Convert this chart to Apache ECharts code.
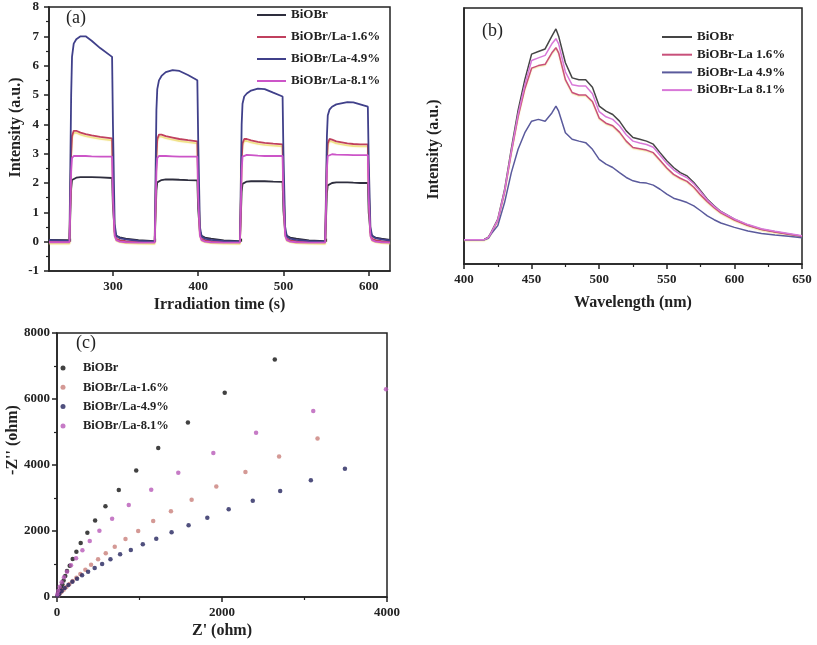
<!DOCTYPE html>
<html><head><meta charset="utf-8">
<script src="https://cdn.jsdelivr.net/npm/echarts@6/dist/echarts.min.js"></script>
<style>html,body{margin:0;padding:0;background:#fff}#c{width:817px;height:645px}</style>
</head><body><div id="c"></div>
<script>
// ---------- Panel (a): photocurrent ----------
const timeA = [225,
249,251,252,254,257,262,268,275,285,299,300,302,304,308,315,330,
349,351,352,354,357,362,370,378,388,399,400,402,404,408,415,430,
449,451,452,454,457,462,470,478,488,499,500,502,504,508,515,530,
549,551,552,554,557,562,575,582,590,599,600,602,604,608,615,625];
const aBiOBr = [0.06,
0.05,1.8,2.1,2.15,2.18,2.2,2.2,2.2,2.19,2.17,1.2,0.35,0.2,0.15,0.1,0.05,
0.02,1.75,2.02,2.07,2.1,2.12,2.12,2.11,2.1,2.09,1.1,0.35,0.2,0.14,0.1,0.04,
0.02,1.7,1.97,2.02,2.05,2.06,2.06,2.06,2.05,2.04,1.05,0.33,0.2,0.14,0.1,0.04,
0.02,1.65,1.92,1.97,2.0,2.02,2.02,2.01,2.0,2.0,1.0,0.33,0.2,0.14,0.1,0.06];
const aLa16 = [0.0,
0.0,3.0,3.6,3.78,3.78,3.72,3.67,3.62,3.57,3.52,2.0,0.3,0.1,0.05,0.02,0.0,
-0.01,2.9,3.5,3.65,3.65,3.6,3.55,3.5,3.46,3.42,2.0,0.3,0.1,0.05,0.02,0.0,
-0.01,2.8,3.35,3.5,3.5,3.45,3.4,3.37,3.34,3.32,1.9,0.3,0.1,0.05,0.02,0.0,
-0.01,2.8,3.35,3.5,3.48,3.42,3.35,3.33,3.32,3.32,1.9,0.3,0.1,0.05,0.02,0.0];
const aLa49 = [0.05,
0.03,5.0,6.3,6.75,6.9,7.0,7.0,6.85,6.6,6.3,4.0,0.6,0.2,0.12,0.08,0.03,
0.0,4.5,5.2,5.5,5.65,5.78,5.85,5.82,5.68,5.5,3.5,0.5,0.18,0.1,0.06,0.02,
0.0,4.0,4.7,4.95,5.05,5.15,5.22,5.2,5.08,4.95,3.0,0.5,0.18,0.1,0.06,0.02,
0.0,3.6,4.3,4.5,4.6,4.68,4.76,4.75,4.68,4.6,2.8,0.5,0.2,0.12,0.08,0.04];
const aLa81 = [-0.02,
-0.02,2.4,2.85,2.92,2.92,2.92,2.92,2.91,2.9,2.9,1.5,0.2,0.05,0.0,-0.02,-0.03,
-0.03,2.4,2.85,2.92,2.92,2.92,2.91,2.9,2.9,2.9,1.5,0.2,0.05,0.0,-0.02,-0.03,
-0.03,2.45,2.9,2.96,2.96,2.95,2.93,2.92,2.92,2.92,1.5,0.2,0.05,0.0,-0.02,-0.03,
-0.03,2.5,2.92,2.98,2.98,2.97,2.96,2.95,2.95,2.95,1.5,0.2,0.05,0.0,-0.02,-0.03];
const namesA = ['BiOBr','BiOBr/La-1.6%','BiOBr/La-4.9%','BiOBr/La-8.1%'];
const xTicksA = [300,400,500,600];
const xMinorA = [250,350,450,550];

// ---------- Panel (b): PL spectra ----------
const waveB = [400,410,415,418,420,425,430,435,440,445,450,455,460,465,468,470,475,480,485,490,495,500,505,510,515,520,525,530,535,540,545,550,555,560,565,570,575,580,585,590,600,610,620,630,640,650];
const bBiOBr = [9.5,9.5,9.6,10.5,12.3,17.5,29,45,60,72,82,83,84,89,91.8,89,78.6,72.7,72,72,69,61.7,59.7,58.4,55.8,52,49.4,48.7,48,46.8,43.5,40.3,37.7,35.7,34.4,31.8,28.6,25.3,22.7,20.5,17.5,15.2,13.6,12.6,11.7,10.8];
const bLa16 = [9.5,9.5,9.5,10.3,12,17,28,43.5,57.5,68.5,76.5,77.5,78,82.5,84.5,82.5,72,67,66,66,63.5,57,55,54,51.5,48,45.5,45,44.5,43.5,40.5,37.5,35,33.5,32.3,30,27,24.3,22,20,17.2,15,13.5,12.5,11.6,10.8];
const bLa49 = [9.5,9.5,9.5,10,11.7,15,24,35.7,44.8,51.3,55.8,56.5,55.8,59,61.7,59.7,51.3,48.7,48,47.4,44.8,40.9,39,37.7,35.7,33.8,32.5,31.8,31.6,30.8,29.2,27.3,25.7,24.9,24,22.7,20.8,18.8,17.3,16,14.3,12.9,11.9,11.3,10.8,10.3];
const bLa81 = [9.5,9.5,9.5,10.3,12.1,17.2,28.5,44,58.5,70,79.5,80.5,81.5,86,88,86,75,70,69.5,69.5,66.5,59.5,57.5,56.5,54,50.5,48,47.3,46.7,45.6,42.5,39.3,36.8,35,33.7,31.3,28.2,25,22.5,20.4,17.6,15.4,13.8,12.8,11.9,11];
const namesB = ['BiOBr','BiOBr-La 1.6%','BiOBr-La 4.9%','BiOBr-La 8.1%'];

// ---------- Panel (c): Nyquist ----------
const cBiOBrX = [2640,2033,1587,1227,960,749,587,462,368,287,235,190,154,121,100,80,65,50,32,20,8];
const cBiOBrY = [7200,6190,5290,4515,3830,3240,2750,2315,1950,1635,1375,1150,950,790,635,500,385,280,180,100,40];
const cLa16X = [3158,2692,2284,1931,1632,1381,1166,984,830,700,591,498,413,344,283,235,190,150,113,81,53,28,12];
const cLa16Y = [4800,4260,3790,3345,2950,2596,2300,2000,1757,1525,1323,1141,980,828,697,586,485,394,303,222,151,81,30];
const cLa49X = [3490,3077,2705,2373,2081,1822,1595,1389,1203,1040,895,765,648,547,457,377,304,243,186,138,93,57,28,8];
const cLa49Y = [3890,3535,3212,2920,2656,2404,2171,1960,1768,1596,1424,1293,1141,1000,879,768,657,556,465,364,273,182,101,40];
const cLa81X = [3988,3106,2413,1895,1470,1142,870,668,514,397,308,231,170,121,85,57,32,16,4];
const cLa81Y = [6292,5636,4979,4363,3767,3252,2788,2374,2010,1697,1414,1172,960,768,596,444,313,192,81];
const namesC = ['BiOBr','BiOBr/La-1.6%','BiOBr/La-4.9%','BiOBr/La-8.1%'];

// ---------- styling ----------
const serif = 'Liberation Serif';
const colA = ['#2e2e3e','#c0405e','#40408a','#cc55c8'];
const colB = ['#454545','#c8507a','#5a5a9c','#d878d8'];
const colC = ['#111111','#c9807a','#24245e','#b85ab8'];
const ink = '#222';
const plain = (v) => String(v);

function lab(extra) {
  return Object.assign({fontFamily: serif, fontWeight: 'bold', fontSize: 13, color: ink, margin: 9, formatter: plain}, extra);
}
function baseAxis(extra) {
  return Object.assign({
    type: 'value',
    axisLine: {show: true, onZero: false, lineStyle: {color: ink, width: 1.5}},
    axisTick: {show: true, inside: false, length: 5, lineStyle: {color: ink, width: 1.5}},
    minorTick: {show: false},
    splitLine: {show: false},
    axisLabel: lab({}),
    nameLocation: 'middle',
    nameTextStyle: {fontFamily: serif, fontWeight: 'bold', fontSize: 16, color: ink}
  }, extra);
}
const minor = {show: true, splitNumber: 2, length: 3, lineStyle: {color: ink, width: 1.2}};

const zip = (xs, ys) => xs.map((x, i) => [x, ys[i]]);

const seriesA = [aBiOBr, aLa16, aLa49, aLa81].map((arr, k) => ({
  type: 'line', name: namesA[k], xAxisIndex: 0, yAxisIndex: 0,
  data: zip(timeA, arr), showSymbol: false, symbol: 'none',
  lineStyle: Object.assign({color: colA[k], width: 1.8},
    k === 1 ? {shadowColor: 'rgba(235,215,90,0.8)', shadowOffsetY: 2, shadowBlur: 1} : {}),
  itemStyle: {color: colA[k]}, z: 3
}));
const seriesB = [bBiOBr, bLa16, bLa49, bLa81].map((arr, k) => ({
  type: 'line', name: namesB[k], xAxisIndex: 2, yAxisIndex: 1,
  data: zip(waveB, arr), showSymbol: false, symbol: 'none',
  lineStyle: Object.assign({color: colB[k], width: 1.5},
    k === 1 ? {shadowColor: 'rgba(235,215,90,0.5)', shadowOffsetY: 1, shadowBlur: 1} : {}),
  itemStyle: {color: colB[k]}, z: 3
}));
const cx = [cBiOBrX, cLa16X, cLa49X, cLa81X];
const cy = [cBiOBrY, cLa16Y, cLa49Y, cLa81Y];
const seriesC = cx.map((xs, k) => ({
  type: 'scatter', name: namesC[k] + ' ', xAxisIndex: 3, yAxisIndex: 2,
  data: zip(xs, cy[k]), symbol: 'circle', symbolSize: 4.5,
  itemStyle: {color: colC[k]}, z: 3
}));

const legText = (fs, extra) => Object.assign({fontFamily: serif, fontWeight: 'bold', fontSize: fs, color: ink, lineHeight: 14}, extra || {});
const nameFont = 'bold 16px "Liberation Serif"';
const vName = (text, x, y) => ({type: 'text', x: x, y: y, rotation: Math.PI / 2,
  style: {text: text, font: nameFont, fill: ink, align: 'center', verticalAlign: 'middle'}});

const option = {
  animation: false,
  backgroundColor: '#fff',
  grid: [
    {left: 49, top: 7, width: 341, height: 264, show: true, borderColor: ink, borderWidth: 1.5},
    {left: 464, top: 8, width: 338, height: 256, show: true, borderColor: ink, borderWidth: 1.5},
    {left: 57, top: 333, width: 330, height: 264, show: true, borderColor: ink, borderWidth: 1.5}
  ],
  xAxis: [
    baseAxis({gridIndex: 0, min: 225, max: 625, name: 'Irradiation time (s)', nameGap: 26,
      axisLabel: lab({customValues: xTicksA}),
      axisTick: {show: true, inside: false, length: 5, lineStyle: {color: ink, width: 1.5}, customValues: xTicksA}}),
    baseAxis({gridIndex: 0, min: 225, max: 625, axisLine: {show: false},
      axisLabel: {show: false},
      axisTick: {show: true, inside: false, length: 3, lineStyle: {color: ink, width: 1.2}, customValues: xMinorA}}),
    baseAxis({gridIndex: 1, min: 400, max: 650, interval: 50, minorTick: minor,
      name: 'Wavelength (nm)', nameGap: 31}),
    baseAxis({gridIndex: 2, min: 0, max: 4000, interval: 2000, minorTick: minor,
      name: "Z' (ohm)", nameGap: 26})
  ],
  yAxis: [
    baseAxis({gridIndex: 0, min: -1, max: 8, interval: 1, minorTick: minor, axisLabel: lab({margin: 10})}),
    baseAxis({gridIndex: 1, min: 0, max: 100, axisLabel: {show: false}, axisTick: {show: false}}),
    baseAxis({gridIndex: 2, min: 0, max: 8000, interval: 2000, minorTick: minor, axisLabel: lab({margin: 7})})
  ],
  legend: [
    {left: 257, top: 8, orient: 'vertical', padding: 0, itemWidth: 29, itemHeight: 2, itemGap: 8,
     icon: 'rect', symbolKeepAspect: false, selectedMode: false, textStyle: legText(13),
     data: namesA.map((n, k) => ({name: n, itemStyle: {color: colA[k]}}))},
    {left: 662, top: 30, orient: 'vertical', padding: 0, itemWidth: 30, itemHeight: 2, itemGap: 3.7,
     icon: 'rect', symbolKeepAspect: false, selectedMode: false, textStyle: legText(13),
     data: namesB.map((n, k) => ({name: n, itemStyle: {color: colB[k]}}))},
    {left: 60.5, top: 361, orient: 'vertical', padding: 0, itemWidth: 5, itemHeight: 5, itemGap: 5.3,
     icon: 'circle', selectedMode: false, textStyle: legText(12.5, {padding: [0, 0, 0, 12.5]}),
     formatter: (n) => n.trim(),
     data: namesC.map((n, k) => ({name: n + ' ', itemStyle: {color: colC[k]}}))}
  ],
  graphic: [
    {type: 'text', left: 66, top: 9, style: {text: '(a)', font: '18px "Liberation Serif"', fill: ink}},
    {type: 'text', left: 482, top: 22, style: {text: '(b)', font: '18px "Liberation Serif"', fill: ink}},
    {type: 'text', left: 76, top: 334, style: {text: '(c)', font: '18px "Liberation Serif"', fill: ink}},
    vName('Intensity (a.u.)', 15.5, 127.5),
    vName('Intensity (a.u.)', 433.5, 149.5),
    vName("-Z'' (ohm)", 12.5, 440)
  ],
  series: [...seriesA, ...seriesB, ...seriesC]
};
const chart = echarts.init(document.getElementById('c'), null, {renderer: 'canvas'});
chart.setOption(option);
</script>
</body></html>
